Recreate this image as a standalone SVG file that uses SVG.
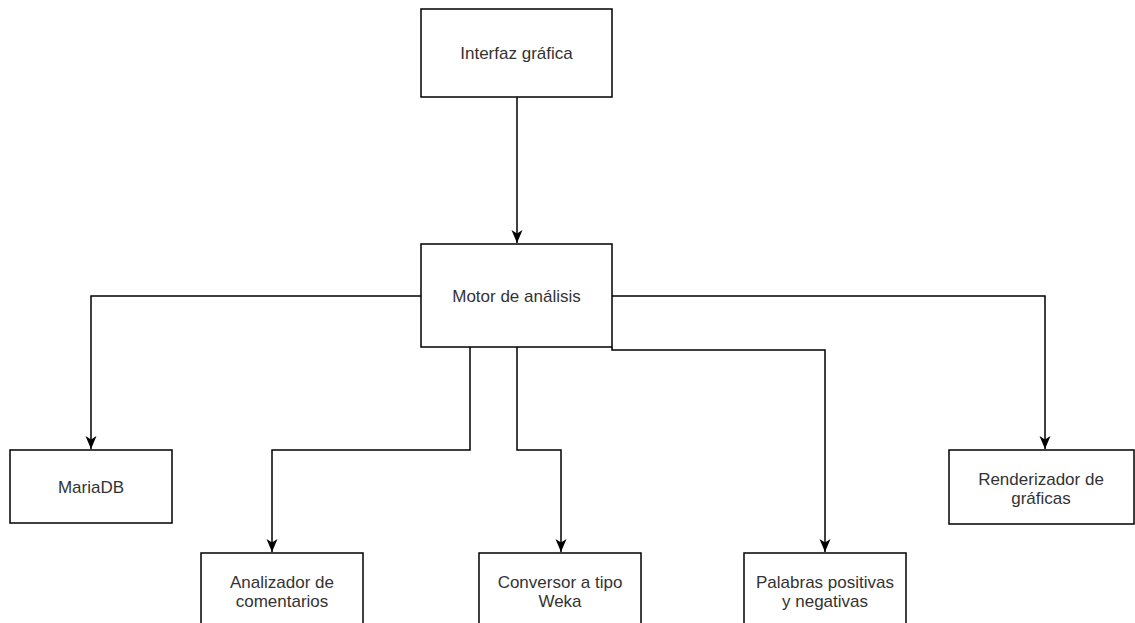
<svg xmlns="http://www.w3.org/2000/svg" width="1135" height="623" viewBox="0 0 1135 623">
<defs>
<style>
.box{fill:#fff;stroke:#000;stroke-width:1.5}
.lbl{font-family:"Liberation Sans",Arial,sans-serif;font-size:17px;fill:#333;text-anchor:middle}
.edge{fill:none;stroke:#000;stroke-width:1.5}
</style>
<marker id="arr" markerUnits="userSpaceOnUse" markerWidth="14" markerHeight="14" viewBox="0 0 14 14" refX="13" refY="7" orient="auto">
<path d="M0,1.5 L13,7 L0,12.5 L3.5,7 z" fill="#000"/>
</marker>
</defs>
<rect width="1135" height="623" fill="#fff"/>
<g id="connectors">
<path class="edge" d="M517,97 L517,243" marker-end="url(#arr)"/>
<path class="edge" d="M421,296 L91,296 L91,449" marker-end="url(#arr)"/>
<path class="edge" d="M470,347 L470,450 L272,450 L272,552" marker-end="url(#arr)"/>
<path class="edge" d="M517,347 L517,450 L561,450 L561,552" marker-end="url(#arr)"/>
<path class="edge" d="M612,347 L612,350 L825,350 L825,552" marker-end="url(#arr)"/>
<path class="edge" d="M612,296 L1045,296 L1045,449" marker-end="url(#arr)"/>
</g>
<g id="interfaz">
<rect class="box" x="421" y="9" width="191" height="88"/>
<text class="lbl" x="516.5" y="59">Interfaz gráfica</text>
</g>
<g id="motor">
<rect class="box" x="421" y="244" width="191" height="103"/>
<text class="lbl" x="516.5" y="301.5">Motor de análisis</text>
</g>
<g id="mariadb">
<rect class="box" x="10" y="450" width="162" height="73"/>
<text class="lbl" x="91" y="493">MariaDB</text>
</g>
<g id="analizador">
<rect class="box" x="201" y="553" width="162" height="76"/>
<text class="lbl" x="282" y="588">Analizador de</text>
<text class="lbl" x="282" y="607">comentarios</text>
</g>
<g id="conversor">
<rect class="box" x="479" y="553" width="162" height="76"/>
<text class="lbl" x="560" y="588">Conversor a tipo</text>
<text class="lbl" x="560" y="607">Weka</text>
</g>
<g id="palabras">
<rect class="box" x="744" y="553" width="162" height="76"/>
<text class="lbl" x="825" y="588">Palabras positivas</text>
<text class="lbl" x="825" y="607">y negativas</text>
</g>
<g id="renderizador">
<rect class="box" x="949" y="450" width="185" height="74"/>
<text class="lbl" x="1041" y="485">Renderizador de</text>
<text class="lbl" x="1041" y="504">gráficas</text>
</g>
</svg>
